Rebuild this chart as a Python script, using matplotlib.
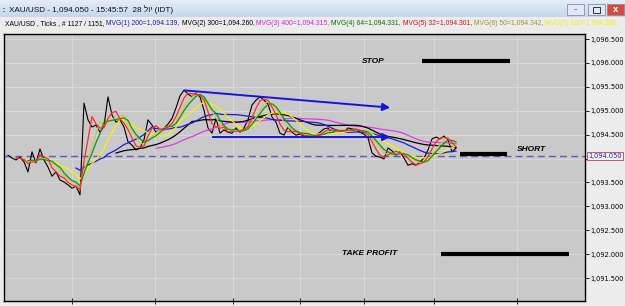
import numpy as np
import pandas as pd
import matplotlib
matplotlib.use("Agg")
import matplotlib.pyplot as plt
from matplotlib.patches import Rectangle
from matplotlib.transforms import blended_transform_factory
from matplotlib.colors import LinearSegmentedColormap

# ---------------- data ----------------
price = [1094.07, 1094.01, 1093.97, 1094.03, 1093.93, 1093.72, 1094.14, 1093.91, 1094.20, 1093.97,
         1093.82, 1093.63, 1093.72, 1093.55, 1093.51, 1093.45, 1093.38, 1093.42, 1093.24, 1095.16,
         1094.81, 1094.66, 1094.70, 1094.55, 1094.68, 1095.29, 1094.91, 1094.76, 1094.81, 1094.66,
         1094.35, 1094.28, 1094.18, 1094.22, 1094.39, 1094.81, 1094.70, 1094.55, 1094.60, 1094.64,
         1094.72, 1094.84, 1095.06, 1095.31, 1095.43, 1095.35, 1095.29, 1095.37, 1095.29, 1095.01,
         1094.64, 1094.53, 1094.84, 1094.53, 1094.60, 1094.55, 1094.53, 1094.64, 1094.55, 1094.64,
         1094.81, 1095.12, 1095.22, 1095.29, 1095.22, 1095.14, 1094.87, 1094.76, 1094.53, 1094.49,
         1094.66, 1094.55, 1094.49, 1094.51, 1094.47, 1094.45, 1094.47, 1094.49, 1094.55, 1094.62,
         1094.64, 1094.53, 1094.60, 1094.58, 1094.55, 1094.64, 1094.62, 1094.60, 1094.55, 1094.51,
         1094.43, 1094.12, 1094.05, 1094.03, 1093.99, 1094.22, 1094.16, 1094.07, 1094.14, 1094.01,
         1093.86, 1093.89, 1093.86, 1093.93, 1094.01, 1094.18, 1094.41, 1094.45, 1094.41, 1094.47,
         1094.39, 1094.14, 1094.22]

ma_names = ["MVG(1) 200", "MVG(2) 300", "MVG(3) 400", "MVG(4) 64", "MVG(5) 32", "MVG(6) 50", "MVG(7) 100"]
ma_values = ["1,094.139", "1,094.260", "1,094.315", "1,094.331", "1,094.301", "1,094.342", "1,094.288"]
ma_windows = [18, 28, 38, 6, 3, 5, 10]
ma_colors = ["#1a1ad8", "#000000", "#e03ce0", "#00a000", "#ff2a2a", "#d8c060", "#f4f400"]
ma_text_colors = ["#1a1ab0", "#000000", "#d020d0", "#007000", "#d01010", "#a09030", "#f0f000"]

yticks = [1091.5, 1092.0, 1092.5, 1093.0, 1093.5, 1094.0, 1094.5, 1095.0, 1095.5, 1096.0, 1096.5]
current_price = 1094.05
stop_level = 1096.04
short_level = 1094.10
take_profit_level = 1092.00
trend_start, trend_end = 1095.43, 1095.06
support_level = 1094.45

title = "XAU/USD - 1,094.050 - 15:45:57  28 \u05dc\u05d5\u05d9 (IDT)"
header_lead = "XAU/USD , Ticks , # 1127 / 1151, "

# ---------------- figure ----------------
W, H = 625, 306
fig = plt.figure(figsize=(W / 100, H / 100), dpi=100)
fig.patch.set_facecolor("#ececec")

def px(x, y):
    return x / W, 1 - y / H

# title bar gradient
tb = fig.add_axes([0, 1 - 17 / H, 1, 17 / H])
tb.set_axis_off()
grad = np.linspace(0, 1, 50).reshape(-1, 1)
cm = LinearSegmentedColormap.from_list("tb", ["#e4edf8", "#c6d7ec"])
tb.imshow(grad, aspect="auto", cmap=cm, extent=[0, 1, 0, 1])
# window buttons
for x0, c in [(567, "#dfe8f3"), (588, "#dfe8f3"), (607, "#d9483a")]:
    fig.patches.append(Rectangle(px(x0, 15), 17 / W, 11 / H, transform=fig.transFigure,
                                 facecolor=c, edgecolor="#8090a8", lw=0.6))
fig.text(*px(575.5, 9.5), "\u2013", fontsize=5, ha="center", va="center", color="#303040")
fig.patches.append(Rectangle(px(593, 13), 7 / W, 6 / H, transform=fig.transFigure,
                             facecolor="none", edgecolor="#303040", lw=0.7))
fig.text(*px(615.5, 9.5), "x", fontsize=6, ha="center", va="center", color="white", weight="bold")
fig.text(*px(1, 9.5), "::", fontsize=5, va="center", color="#404060")

fig.canvas.draw()
rend = fig.canvas.get_renderer()

# title text scaled to width
t = fig.text(*px(9, 9.5), title, fontsize=7, va="center", family=["Liberation Sans", "DejaVu Sans"], color="#101010")
w = t.get_window_extent(renderer=rend).width
t.set_fontsize(7 * 163 / w)

# header (multi coloured)
segments = [(header_lead, "#000000")]
for n, v, c in zip(ma_names, ma_values, ma_text_colors):
    segments.append((f"{n}={v}, ", c))
base = 5.0
total = 0
for s_, c in segments[:-1]:
    tt = fig.text(0, 0, s_, fontsize=base, family="Liberation Sans")
    total += tt.get_window_extent(renderer=rend).width
    tt.remove()
fs = base * 545 / total
x = 5
for s_, c in segments:
    tt = fig.text(*px(x, 23.5), s_, fontsize=fs, family="Liberation Sans", color=c, va="center")
    x += tt.get_window_extent(renderer=rend).width

# ---------------- main chart ----------------
ax = fig.add_axes([4 / W, 1 - 301 / H, (585 - 4) / W, (301 - 34) / H])
ax.set_facecolor("#c9c9c9")
idx = np.arange(len(price))
s = pd.Series(price)

vgrid = [16, 36.75, 56.25, 73, 89, 106.5, 127.25]
ax.set_xticks(vgrid)
ax.set_xticklabels([])
ax.set_yticks(yticks)
# the 1,094.000 label is covered by the current-price tag in the reference
ax.set_yticklabels(["" if abs(v - current_price) < 0.2 else f"{v:,.3f}" for v in yticks])
ax.yaxis.tick_right()
ax.tick_params(axis="y", labelsize=4.8, length=3, pad=1, colors="black", width=0.6)
ax.tick_params(axis="x", direction="inout", length=4, width=0.6)
ax.grid(True, color="#dadada", lw=0.6)
ax.set_axisbelow(True)
for sp in ax.spines.values():
    sp.set_color("black")
    sp.set_linewidth(1)

ax.plot(idx, price, color="black", lw=0.8, zorder=3)
order = [2, 1, 0, 6, 5, 3, 4]
for k in order:
    ma = s.rolling(ma_windows[k]).mean()
    ax.plot(idx, ma, color=ma_colors[k], lw=0.9, zorder=4)

ax.axhline(current_price, color="#5a5ac8", lw=1, ls=(0, (5, 3)), zorder=2)

# trend lines with arrows
ax.annotate("", xy=(96.25, trend_end), xytext=(43.5, trend_start),
            arrowprops=dict(arrowstyle="-|>", color="#1414e0", lw=1.4, mutation_scale=11), zorder=6)
ax.annotate("", xy=(96.25, support_level), xytext=(50.5, support_level),
            arrowprops=dict(arrowstyle="-|>", color="#1414e0", lw=1.4, mutation_scale=11), zorder=6)

# order levels
ax.plot([103.5, 125.5], [stop_level, stop_level], color="black", lw=3, solid_capstyle="butt", zorder=6)
ax.plot([113, 124.75], [short_level, short_level], color="black", lw=3, solid_capstyle="butt", zorder=6)
ax.plot([108.25, 140.25], [take_profit_level, take_profit_level], color="black", lw=3, solid_capstyle="butt", zorder=6)
lab = dict(fontsize=6, weight="bold", style="italic", family="Liberation Sans", va="center", color="black")
ax.text(88.5, stop_level, "STOP", **lab)
ax.text(127.25, short_level + 0.08, "SHORT", **lab)
ax.text(83.5, take_profit_level + 0.02, "TAKE PROFIT", **lab)

ax.set_xlim(-1, 144.25)
ax.set_ylim(1091.02, 1096.605)

# current price label
tr = blended_transform_factory(ax.transAxes, ax.transData)
ax.text(1.006, current_price, "1,094.050", transform=tr, fontsize=4.8, color="#2020a0",
        va="center", ha="left", clip_on=False, zorder=10,
        bbox=dict(boxstyle="square,pad=0.2", facecolor="#f2f2f2", edgecolor="#c04050", lw=0.6))

fig.savefig("out.png", dpi=100, facecolor=fig.get_facecolor())
